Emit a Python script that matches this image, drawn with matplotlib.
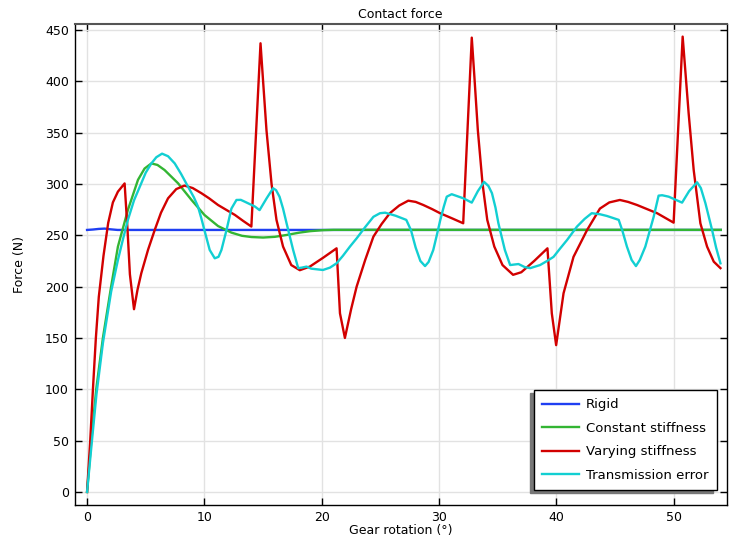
import matplotlib
matplotlib.use("Agg")
import matplotlib.pyplot as plt

# ---------------- data ----------------
rigid_x = [0, 0.5, 1.0, 1.5, 2.0, 2.6, 3.0, 54.0]
rigid_y = [255.2, 255.6, 256.2, 256.5, 255.8, 255.2, 255.2, 255.2]

const_x = [0, 0.36, 0.78, 1.35, 2.05, 2.63, 3.48, 4.34, 4.9, 5.48, 6.0, 6.6, 7.75,
           8.9, 10.0, 11.16, 12.3, 13.2, 14.0, 15.0, 16.0, 17.0, 18.1, 19.0, 20.1,
           21.0, 22.0, 54.0]
const_y = [0, 50, 100, 150, 200, 239, 274.7, 304, 315, 320, 318.5, 313.6, 300.7,
           284.4, 269.8, 259, 252.6, 249.5, 248.3, 247.8, 248.5, 250.3, 252.6, 254,
           255, 255.3, 255.3, 255.3]

vary_x = [0, 0.27, 0.5, 0.75, 1.0, 1.4, 1.8, 2.2, 2.63, 3.2, 3.45, 3.65, 4.0, 4.3,
          4.62, 5.2, 5.76, 6.3, 6.9, 7.6, 8.3, 9.0, 9.74, 10.4, 11.16, 11.9, 12.6,
          13.3, 14.0, 14.78, 15.0, 15.29, 15.72, 16.14, 16.7, 17.4, 18.13, 18.98,
          20.1, 21.26, 21.55, 21.97, 22.5, 22.97, 23.7, 24.4, 25.1, 25.8, 26.6,
          27.37, 28.0, 28.65, 29.4, 30.08, 31.1, 32.05, 32.78, 33.0, 33.3, 33.7,
          34.1, 34.7, 35.4, 36.3, 37.0, 38.1, 39.23, 39.6, 39.97, 40.6, 41.45,
          42.6, 43.7, 44.5, 45.4, 46.1, 46.86, 48.57, 49.98, 50.75, 51.26, 51.69,
          52.26, 52.83, 53.4, 53.97]
vary_y = [0, 50, 100, 150, 190, 230, 262, 282, 292.5, 300.5, 255, 212, 178, 197,
          213, 236, 255, 272, 286, 295, 298.4, 296, 291, 286, 279.5, 274.5, 269.8,
          264, 258.5, 437, 400, 352, 300, 265, 239, 221, 216, 219.5,
          228, 237.3, 174, 150, 178, 200, 226, 248.7, 261, 271.5, 279,
          283.7, 282.5, 279.5, 275.5, 271.5, 266.5, 261.7, 442.5, 405, 352, 300,
          265, 239, 221, 211.5, 214, 225, 237.3, 174, 143, 193.5, 229,
          255, 276, 282, 284.4, 282.5, 279.5, 271.5, 262.3, 443.5, 368.8, 313.6,
          261.7, 239, 224.3, 218]

trans_x = [0, 0.4, 0.8, 1.35, 2.05, 2.63, 3.1, 3.48, 4.0, 4.62, 5.0, 5.48, 5.9,
           6.39, 6.9, 7.47, 8.0, 8.6, 9.1, 9.45, 9.75, 10.0, 10.45, 10.88, 11.2,
           11.45, 11.88, 12.3, 12.73, 13.1, 13.44, 14.3, 14.7, 15.3, 15.85, 16.1,
           16.4, 16.7, 17.0, 17.56, 17.99, 18.3, 18.7, 19.1, 19.56, 20.1, 20.7,
           21.26, 21.8, 22.4, 22.97, 23.7, 24.4, 24.96, 25.4, 26.3, 27.2, 27.6,
           28.0, 28.4, 28.8, 29.1, 29.5, 29.8, 30.1, 30.4, 30.65, 31.07, 32.07,
           32.78, 33.3, 33.83, 34.2, 34.5, 34.8, 35.05, 35.6, 36.05, 36.4, 36.76,
           37.3, 37.76, 38.6, 39.2, 39.75, 40.3, 40.9, 41.74, 42.4, 43.0, 43.7,
           44.3, 45.3, 45.6, 46.0, 46.4, 46.77, 47.1, 47.57, 48.28, 48.7, 49.0,
           49.56, 50.7, 51.3, 51.98, 52.3, 52.69, 53.26, 53.6, 53.97]
trans_y = [0, 48, 95, 145, 195, 226, 248, 265, 284, 300.7, 311, 320, 326,
           329.5, 327, 320, 310, 297.4, 287, 278, 266, 255, 235.7, 227.6, 229,
           235.7, 255, 276, 284.4, 284.5, 282.7, 278, 274.5, 286, 295.8, 294,
           287.6, 276, 261.7, 235.7, 218, 218.5, 219.5, 217.5, 216.9, 216.2, 218.5,
           222.7, 230, 239, 247, 258, 268, 271.5, 272, 269, 265, 255,
           238, 225, 220, 224, 235.7, 250, 265, 278, 287.6, 290, 286,
           281.8, 293, 302, 298, 291, 277, 261.7, 235.7, 221, 221.5, 222,
           219, 218, 221, 225, 229, 237, 245.4, 258.4, 266, 271.5, 270.5,
           268.8, 265, 255, 239, 226, 220, 226, 239, 268, 288.6, 289,
           287.6, 281.8, 293, 301.6, 296, 281.2, 255, 238, 222.7]

series_labels = ["Rigid", "Constant stiffness", "Varying stiffness", "Transmission error"]
x_ticks = [0, 10, 20, 30, 40, 50]
y_ticks = [0, 50, 100, 150, 200, 250, 300, 350, 400, 450]

# ---------------- plot ----------------
plt.rcParams['font.family'] = ['DejaVu Sans']
fig = plt.figure(figsize=(7.29, 5.40), dpi=100)
ax = fig.add_axes([0.1022, 0.0648, 0.8946, 0.8908])

colors = ['#1f3ff2', '#33b533', '#d20000', '#12cfd2']
lw = 1.7
ax.plot(rigid_x, rigid_y, color=colors[0], lw=lw, label=series_labels[0], zorder=3)
ax.plot(const_x, const_y, color=colors[1], lw=lw, label=series_labels[1], zorder=3)
ax.plot(vary_x, vary_y, color=colors[2], lw=lw, label=series_labels[2], zorder=3)
ax.plot(trans_x, trans_y, color=colors[3], lw=lw, label=series_labels[3], zorder=3)

ax.set_xlim(-1.07, 54.5)
ax.set_ylim(-12.7, 455.8)
ax.set_xticks(x_ticks)
ax.set_yticks(y_ticks)
ax.grid(True, color='#e2e2e2', lw=1.0, zorder=0)
ax.set_axisbelow(True)
ax.tick_params(direction='in', length=5, width=1, top=True, right=True,
               labelsize=9, pad=4, color='black')
for s in ['left', 'bottom', 'right']:
    ax.spines[s].set_linewidth(1.0)
    ax.spines[s].set_color('black')
ax.spines['top'].set_linewidth(1.5)
ax.spines['top'].set_color('#555555')

ax.set_title("Contact force", fontsize=9, pad=4)
ax.set_xlabel("Gear rotation (°)", fontsize=9, labelpad=0)
ax.set_ylabel("Force (N)", fontsize=9, labelpad=14)

leg = ax.legend(loc='lower right', bbox_to_anchor=(0.9847, 0.0312), borderaxespad=0,
                fontsize=9.5, frameon=True, fancybox=False, edgecolor='black',
                framealpha=1, handlelength=2.8, handletextpad=0.55,
                labelspacing=0.8, borderpad=0.62,
                shadow={'ox': -2.4, 'oy': -2.2, 'facecolor': '#777777',
                        'edgecolor': '#777777', 'alpha': 1})
leg.get_frame().set_linewidth(1.0)
leg.set_zorder(5)

fig.savefig("out.png", dpi=100)
